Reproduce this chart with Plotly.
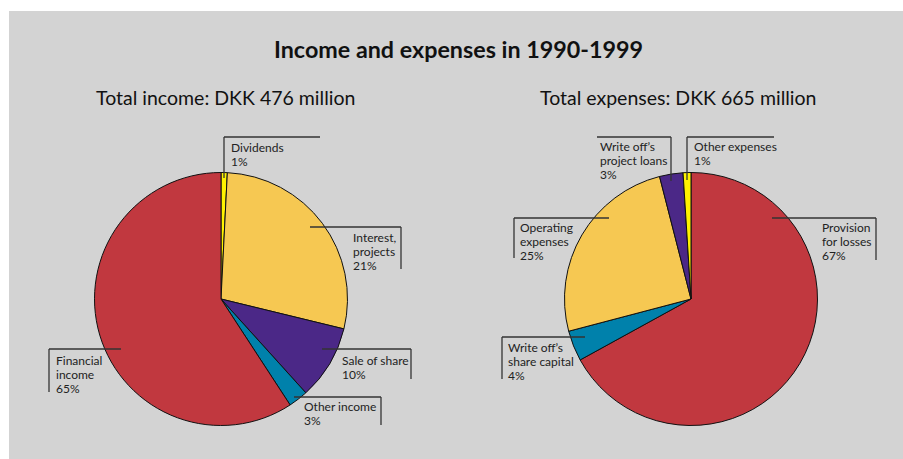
import plotly.graph_objects as go

W, H = 903, 459

# ---- data ----
income_labels = ["Dividends", "Interest, projects", "Sale of share", "Other income", "Financial income"]
income_share = [0.8, 28.0, 9.5, 2.5, 59.2]          # slice sizes as drawn (%)
income_text = ["Dividends<br>1%", "Interest,<br>projects<br>21%", "Sale of share<br>10%",
               "Other income<br>3%", "Financial<br>income<br>65%"]

expense_labels = ["Provision for losses", "Write off's share capital", "Operating expenses",
                  "Write off's project loans", "Other expenses"]
expense_share = [67.0, 3.9, 25.1, 3.0, 1.0]
expense_text = ["Provision<br>for losses<br>67%", "Write off’s<br>share capital<br>4%",
                "Operating<br>expenses<br>25%", "Write off’s<br>project loans<br>3%",
                "Other expenses<br>1%"]

income_colors = ["#FFF200", "#F6C852", "#4B2887", "#0081AB", "#C1383F"]
expense_colors = ["#C1383F", "#0081AB", "#F6C852", "#4B2887", "#FFF200"]

title = "Income and expenses in 1990-1999"
sub_income = "Total income: DKK 476 million"
sub_expense = "Total expenses: DKK 665 million"

FONT = "Lato"
BG = "#D3D3D3"

def px(x):
    return x / W

def py(y):
    return 1 - y / H

R = 126.5
def dom(cx, cy):
    return dict(x=[px(cx - R), px(cx + R)], y=[py(cy + R), py(cy - R)])

fig = go.Figure()
fig.add_trace(go.Pie(values=income_share, labels=income_labels, sort=False,
                     direction="clockwise", rotation=0, domain=dom(221, 299),
                     marker=dict(colors=income_colors, line=dict(color="#111", width=1)),
                     textinfo="none", hoverinfo="label", showlegend=False))
fig.add_trace(go.Pie(values=expense_share, labels=expense_labels, sort=False,
                     direction="clockwise", rotation=0, domain=dom(691, 299),
                     marker=dict(colors=expense_colors, line=dict(color="#111", width=1)),
                     textinfo="none", hoverinfo="label", showlegend=False))

shapes = [dict(type="rect", xref="paper", yref="paper", x0=px(9), x1=1, y0=0, y1=py(11),
               fillcolor=BG, line=dict(width=0), layer="below")]

# leader lines: (horizontal y, x start, x end, vertical x, vertical end y)
leaders = [
    (137, 224, 320, 224, 178),     # Dividends
    (227, 310, 401, 401, 269),     # Interest
    (349, 322, 411, 411, 379),     # Sale of share
    (397, 294, 381, 381, 425),     # Other income
    (349, 49, 121, 49, 392),       # Financial
    (137, 597, 671, 671, 181),     # WO project loans
    (137, 687, 774, 687, 180),     # Other expenses
    (218, 514, 609, 514, 258),     # Operating
    (218, 772, 876, 876, 260),     # Provision
    (337, 502, 585, 502, 379),     # WO share capital
]
for hy, x0, x1, vx, vy in leaders:
    shapes.append(dict(type="line", xref="paper", yref="paper", x0=px(x0), x1=px(x1),
                       y0=py(hy), y1=py(hy), line=dict(color="#333", width=1.3)))
    shapes.append(dict(type="line", xref="paper", yref="paper", x0=px(vx), x1=px(vx),
                       y0=py(hy), y1=py(vy), line=dict(color="#333", width=1.3)))

# label positions (left x, first line center y)
label_pos = {
    0: [(229, 147.5), (351, 237.5), (340, 360.5), (302, 406.5), (54, 360)],
    1: [(820, 227.5), (506, 347.5), (518, 227.5), (598, 146), (692, 146)],
}
LS = 14.2
annotations = []
for side, texts in ((0, income_text), (1, expense_text)):
    for (lx, ly), t in zip(label_pos[side], texts):
        for i, line in enumerate(t.split("<br>")):
            annotations.append(dict(text=line, x=px(lx), y=py(ly + i * LS), xref="paper", yref="paper",
                                    xanchor="left", yanchor="middle", showarrow=False,
                                    font=dict(family=FONT, size=12, color="#222")))

annotations.append(dict(text="<b>" + title + "</b>", x=px(458), y=py(49), xref="paper", yref="paper",
                        xanchor="center", yanchor="middle", showarrow=False,
                        font=dict(family=FONT, size=23.3, color="#111")))
annotations.append(dict(text=sub_income, x=px(225.5), y=py(97), xref="paper", yref="paper",
                        xanchor="center", yanchor="middle", showarrow=False,
                        font=dict(family=FONT, size=19.5, color="#111")))
annotations.append(dict(text=sub_expense, x=px(677.5), y=py(97), xref="paper", yref="paper",
                        xanchor="center", yanchor="middle", showarrow=False,
                        font=dict(family=FONT, size=19.5, color="#111")))

fig.update_layout(width=W, height=H, margin=dict(l=0, r=0, t=0, b=0),
                  paper_bgcolor="white", plot_bgcolor="white",
                  shapes=shapes, annotations=annotations)
fig.write_html("out.html")
